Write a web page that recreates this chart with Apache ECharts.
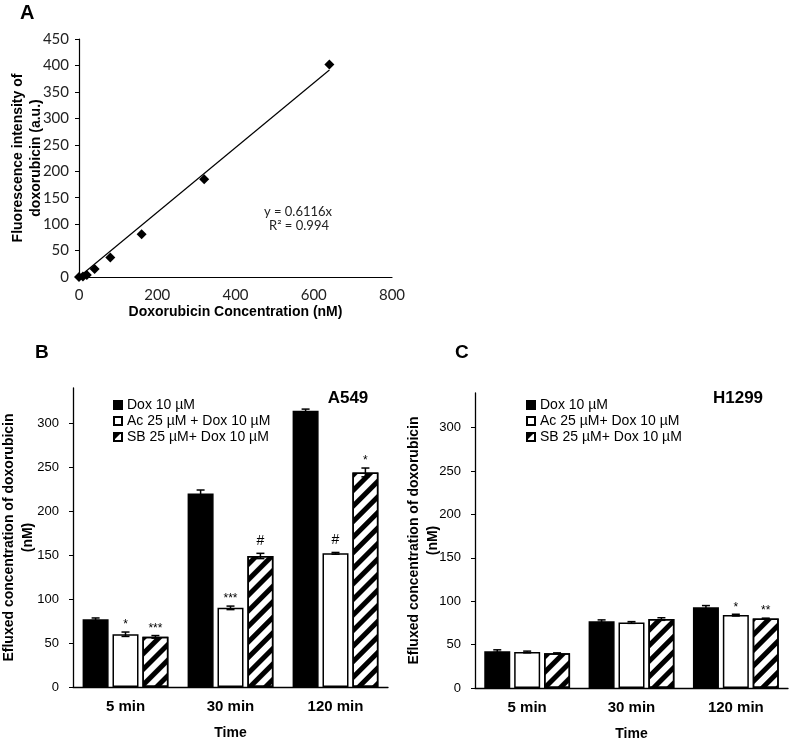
<!DOCTYPE html>
<html><head><meta charset="utf-8">
<script src="https://cdn.jsdelivr.net/npm/echarts@6/dist/echarts.min.js"></script>
<style>html,body{margin:0;padding:0;background:#fff}#c{width:800px;height:741px}</style>
</head><body><div id="c"></div>
<script>
// ---- Panel A data ----
const concX = [0, 10, 20, 40, 80, 160, 320, 640];
const fluorY = [0, 1, 4, 15, 37, 81, 185, 402];
const trendSlope = 0.6116;
const trendX = [0, 640];
const eqText = 'y = 0.6116x';
const r2Text = 'R\u00B2 = 0.994';

// ---- Panels B & C data ----
const timeCats = ['5 min', '30 min', '120 min'];
const yTicksBC = [0, 50, 100, 150, 200, 250, 300];
const namesB = ['Dox 10 \u00B5M', 'Ac 25 \u00B5M + Dox 10 \u00B5M', 'SB 25 \u00B5M+ Dox 10 \u00B5M'];
const namesC = ['Dox 10 \u00B5M', 'Ac 25 \u00B5M+ Dox 10 \u00B5M', 'SB 25 \u00B5M+ Dox 10 \u00B5M'];

const a549Dox = [77, 220, 314];
const a549Ac = [60, 90, 152];
const a549SB = [57, 149, 244];
const a549DoxErr = [1.5, 4, 2];
const a549AcErr = [2.5, 2, 1];
const a549SBErr = [1.5, 3, 5];
const a549DoxSig = ['', '', ''];
const a549AcSig = ['*', '***', '#'];
const a549SBSig = ['***', '#', '*'];

const h1299Dox = [42.5, 77, 93];
const h1299Ac = [41.5, 75.5, 84];
const h1299SB = [40, 79.5, 80];
const h1299DoxErr = [1.5, 1.5, 2];
const h1299AcErr = [1, 1, 1];
const h1299SBErr = [0.5, 1.5, 0.5];
const h1299DoxSig = ['', '', ''];
const h1299AcSig = ['', '', '*'];
const h1299SBSig = ['', '', '**'];

// ---- styles ----
const BAR_W = 26;
const BAR_GAP_PCT = 0.15;
const BOLD = 'Liberation Sans';
const hatch = {
  symbol: 'rect', symbolSize: 1, color: '#000',
  dashArrayX: [1, 0], dashArrayY: [4.5, 5.5], rotation: -Math.PI / 4
};
const styleDox = { color: '#000', borderColor: '#000', borderWidth: 1.5 };
const styleAc = { color: '#fff', borderColor: '#000', borderWidth: 1.5 };
const styleSB = { color: '#fff', borderColor: '#000', borderWidth: 1.5, decal: hatch };

const chart = echarts.init(document.getElementById('c'));

function barSeries(name, vals, style, idx) {
  return { type: 'bar', name: name, data: vals, xAxisIndex: idx, yAxisIndex: idx,
    barWidth: BAR_W, barGap: (BAR_GAP_PCT * 100) + '%', itemStyle: style, silent: true };
}
function errSeries(vals, errs, sigs, slot, idx) {
  const off = (slot - 1) * BAR_W * (1 + BAR_GAP_PCT);
  return {
    type: 'custom', xAxisIndex: idx, yAxisIndex: idx, z: 10, silent: true,
    data: vals.map((v, i) => [i, v, errs[i]]),
    renderItem: function (params, api) {
      const i = api.value(0), v = api.value(1), e = api.value(2);
      const t = api.coord([i, v + e]);
      const b = api.coord([i, v - e]);
      const x = t[0] + off;
      const st = { stroke: '#000', lineWidth: 1.5 };
      const kids = [
        { type: 'line', shape: { x1: x, y1: t[1], x2: x, y2: b[1] }, style: st },
        { type: 'line', shape: { x1: x - 4, y1: t[1], x2: x + 4, y2: t[1] }, style: st },
        { type: 'line', shape: { x1: x - 4, y1: b[1], x2: x + 4, y2: b[1] }, style: st }
      ];
      const s = sigs[params.dataIndex];
      if (s) {
        const isHash = s.indexOf('#') >= 0;
        kids.push({ type: 'text', x: x, y: t[1] - (isHash ? 5 : 1),
          style: { text: s, fill: '#000', align: 'center', verticalAlign: 'bottom',
            font: (isHash ? '14px' : '12px') + ' "Liberation Sans"' } });
      }
      return { type: 'group', children: kids };
    }
  };
}

const yLabel = { color: '#000', fontSize: 13, fontFamily: 'Liberation Sans', margin: 14, customValues: yTicksBC };
const axisLine = { show: true, lineStyle: { color: '#000', width: 1.3 } };

const option = {
  animation: false,
  backgroundColor: '#fff',
  grid: [
    { left: 79, top: 39, width: 313, height: 238, outerBoundsMode: 'none', containLabel: false },
    { left: 73, top: 388, width: 315, height: 299, outerBoundsMode: 'none', containLabel: false },
    { left: 475, top: 393, width: 313, height: 295, outerBoundsMode: 'none', containLabel: false }
  ],
  xAxis: [
    { type: 'value', gridIndex: 0, min: 0, max: 800, interval: 200,
      axisLine: { show: true, onZero: false, lineStyle: { color: '#000', width: 1.2 } },
      axisTick: { show: false }, splitLine: { show: false },
      axisLabel: { color: '#222', fontSize: 15, fontFamily: 'Lato', margin: 11 },
      name: 'Doxorubicin Concentration (nM)', nameLocation: 'middle', nameGap: 28,
      nameTextStyle: { fontSize: 14, fontWeight: 'bold', fontFamily: BOLD, color: '#000' } },
    { type: 'category', gridIndex: 1, data: timeCats,
      axisLine: axisLine, axisTick: { show: false },
      axisLabel: { color: '#000', fontSize: 15, fontWeight: 'bold', fontFamily: BOLD, margin: 12 },
      name: 'Time', nameLocation: 'middle', nameGap: 39,
      nameTextStyle: { fontSize: 14, fontWeight: 'bold', fontFamily: BOLD, color: '#000' } },
    { type: 'category', gridIndex: 2, data: timeCats,
      axisLine: axisLine, axisTick: { show: false },
      axisLabel: { color: '#000', fontSize: 15, fontWeight: 'bold', fontFamily: BOLD, margin: 12 },
      name: 'Time', nameLocation: 'middle', nameGap: 39,
      nameTextStyle: { fontSize: 14, fontWeight: 'bold', fontFamily: BOLD, color: '#000' } }
  ],
  yAxis: [
    { type: 'value', gridIndex: 0, min: 0, max: 450, interval: 50,
      axisLine: { show: true, lineStyle: { color: '#000', width: 1.2 } },
      axisTick: { show: true, length: 4, lineStyle: { color: '#000' } },
      splitLine: { show: false },
      axisLabel: { color: '#222', fontSize: 15, fontFamily: 'Lato', margin: 10 },
      name: 'Fluorescence intensity of\ndoxorubicin (a.u.)', nameLocation: 'middle', nameGap: 34,
      nameMoveOverlap: false,
      nameTextStyle: { fontSize: 14, fontWeight: 'bold', fontFamily: BOLD, color: '#000', lineHeight: 18 } },
    { type: 'value', gridIndex: 1, min: 0, max: 340,
      axisLine: axisLine,
      axisTick: { show: true, length: 4, lineStyle: { color: '#000' }, customValues: yTicksBC },
      splitLine: { show: false }, axisLabel: yLabel,
      name: 'Efluxed concentration of doxorubicin\n(nM)', nameLocation: 'middle', nameGap: 35,
      nameMoveOverlap: false,
      nameTextStyle: { fontSize: 14, fontWeight: 'bold', fontFamily: BOLD, color: '#000', lineHeight: 19 } },
    { type: 'value', gridIndex: 2, min: 0, max: 340,
      axisLine: axisLine,
      axisTick: { show: true, length: 4, lineStyle: { color: '#000' }, customValues: yTicksBC },
      splitLine: { show: false }, axisLabel: yLabel,
      name: 'Efluxed concentration of doxorubicin\n(nM)', nameLocation: 'middle', nameGap: 32,
      nameMoveOverlap: false,
      nameTextStyle: { fontSize: 14, fontWeight: 'bold', fontFamily: BOLD, color: '#000', lineHeight: 19 } }
  ],
  legend: [
    { left: 108, top: 392, orient: 'vertical', itemWidth: 8, itemHeight: 8, itemGap: 0,
      icon: 'rect', selectedMode: false, data: namesB,
      textStyle: { fontSize: 14, lineHeight: 16, fontFamily: 'Liberation Sans', color: '#000' } },
    { left: 521, top: 392, orient: 'vertical', itemWidth: 8, itemHeight: 8, itemGap: 0,
      icon: 'rect', selectedMode: false, data: namesC,
      textStyle: { fontSize: 14, lineHeight: 16, fontFamily: 'Liberation Sans', color: '#000' } }
  ],
  graphic: [
    { type: 'text', left: 20, top: 3, style: { text: 'A', font: 'bold 20px "Liberation Sans"', fill: '#000' } },
    { type: 'text', left: 35, top: 343, style: { text: 'B', font: 'bold 19px "Liberation Sans"', fill: '#000' } },
    { type: 'text', left: 455, top: 343, style: { text: 'C', font: 'bold 19px "Liberation Sans"', fill: '#000' } },
    { type: 'text', x: 348, y: 398, style: { text: 'A549', font: 'bold 17px "Liberation Sans"', fill: '#000', align: 'center', verticalAlign: 'middle' } },
    { type: 'text', x: 738, y: 398, style: { text: 'H1299', font: 'bold 17px "Liberation Sans"', fill: '#000', align: 'center', verticalAlign: 'middle' } },
    { type: 'text', x: 298, y: 212, style: { text: eqText, font: '13px Lato', fill: '#222', align: 'center', verticalAlign: 'middle' } },
    { type: 'text', x: 299, y: 226, style: { text: r2Text, font: '13px Lato', fill: '#222', align: 'center', verticalAlign: 'middle' } }
  ],
  series: [
    { type: 'line', xAxisIndex: 0, yAxisIndex: 0, data: trendX.map(x => [x, x * trendSlope]),
      showSymbol: false, lineStyle: { color: '#000', width: 1.2 }, silent: true },
    { type: 'scatter', xAxisIndex: 0, yAxisIndex: 0, data: concX.map((x, i) => [x, fluorY[i]]),
      symbol: 'diamond', symbolSize: 10, itemStyle: { color: '#000', opacity: 1 }, silent: true, z: 5 },
    barSeries(namesB[0], a549Dox, styleDox, 1),
    barSeries(namesB[1], a549Ac, styleAc, 1),
    barSeries(namesB[2], a549SB, styleSB, 1),
    errSeries(a549Dox, a549DoxErr, a549DoxSig, 0, 1),
    errSeries(a549Ac, a549AcErr, a549AcSig, 1, 1),
    errSeries(a549SB, a549SBErr, a549SBSig, 2, 1),
    barSeries(namesC[0], h1299Dox, styleDox, 2),
    barSeries(namesC[1], h1299Ac, styleAc, 2),
    barSeries(namesC[2], h1299SB, styleSB, 2),
    errSeries(h1299Dox, h1299DoxErr, h1299DoxSig, 0, 2),
    errSeries(h1299Ac, h1299AcErr, h1299AcSig, 1, 2),
    errSeries(h1299SB, h1299SBErr, h1299SBSig, 2, 2)
  ]
};
chart.setOption(option);
</script></body></html>
